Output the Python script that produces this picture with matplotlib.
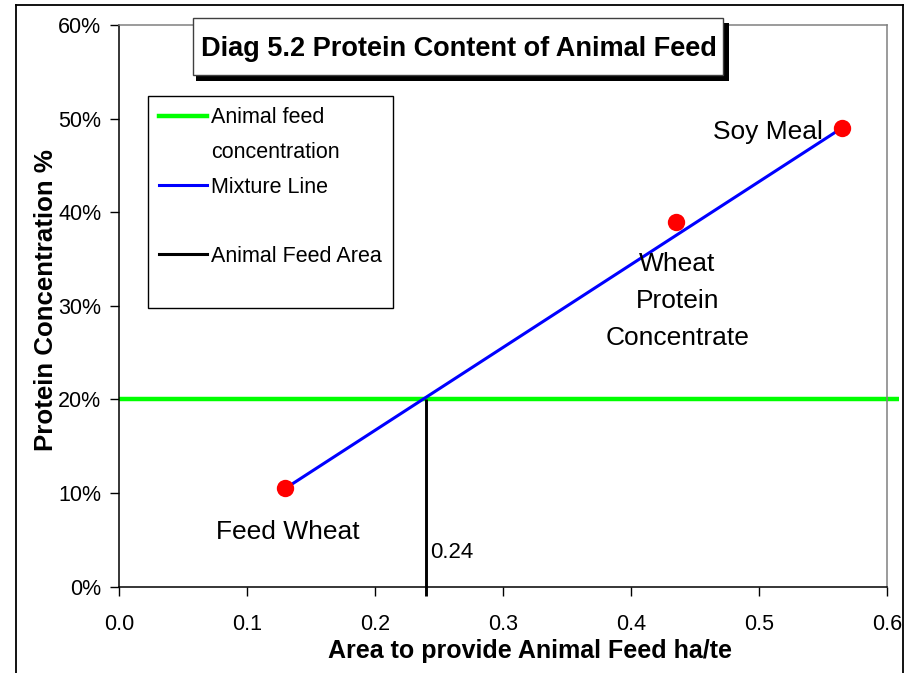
import matplotlib
matplotlib.use("Agg")
import matplotlib.pyplot as plt
from matplotlib.lines import Line2D
from matplotlib.patches import Rectangle
from matplotlib.ticker import PercentFormatter, FormatStrFormatter

plt.rcParams['font.family'] = ['Liberation Sans', 'DejaVu Sans']

# ---- data ----
feed_names = ["Feed Wheat", "Wheat\nProtein\nConcentrate", "Soy Meal"]
feed_area = [0.13, 0.435, 0.565]          # ha/te
feed_protein = [0.105, 0.39, 0.49]         # protein fraction
mixture_area = [0.13, 0.565]
mixture_protein = [0.105, 0.49]
target_conc = 0.20
target_line_x = [0.0, 0.61]
feed_area_result = 0.24
area_line_y = [-0.01, 0.20]
x_ticks = [0.0, 0.1, 0.2, 0.3, 0.4, 0.5, 0.6]
y_ticks = [0.0, 0.1, 0.2, 0.3, 0.4, 0.5, 0.6]
legend_labels = ["Animal feed", "concentration", "Mixture Line", " ",
                 "Animal Feed Area", " "]
title_text = "Diag 5.2 Protein Content of Animal Feed"
x_label = "Area to provide Animal Feed ha/te"
y_label = "Protein Concentration %"

# label positions (data coords): x, y, ha, va
label_pos = [(0.132, 0.051, 'center', 'baseline'),
             (0.4365, 0.357, 'center', 'top'),
             (0.5505, 0.478, 'right', 'baseline')]

W, H = 915, 673
fig = plt.figure(figsize=(W / 100, H / 100), dpi=100)
ax = fig.add_axes([119 / W, 1 - 586.7 / H, (886.7 - 119) / W, (586.7 - 25) / H])

ax.set_xlim(0, 0.6)
ax.set_ylim(0, 0.6)

green, = ax.plot(target_line_x, [target_conc, target_conc], color='#00ff00', lw=3.2,
                 clip_on=False, zorder=2, solid_capstyle='butt')
blue, = ax.plot(mixture_area, mixture_protein, color='#0000ff', lw=2.2, zorder=3)
black, = ax.plot([feed_area_result, feed_area_result], area_line_y, color='black',
                 lw=2.1, clip_on=False, zorder=3, solid_capstyle='butt')
ax.plot(feed_area, feed_protein, linestyle='none', marker='o', markersize=12.5,
        color='#ff0000', markeredgewidth=0, zorder=4)

# point labels
for name, (lx, ly, ha, va) in zip(feed_names, label_pos):
    ax.text(lx, ly, name, ha=ha, va=va, fontsize=19, linespacing=1.68,
            multialignment='center', zorder=5)

ax.text(feed_area_result + 0.0033, 0.0303, f"{feed_area_result:.2f}", ha='left',
        va='baseline', fontsize=16)

# axes styling
ax.set_xticks(x_ticks)
ax.set_yticks(y_ticks)
ax.xaxis.set_major_formatter(FormatStrFormatter('%.1f'))
ax.yaxis.set_major_formatter(PercentFormatter(xmax=1, decimals=0))
ax.tick_params(axis='both', direction='out', length=6.5, width=1.0, labelsize=15.5,
               colors='black')
ax.tick_params(axis='x', pad=13.5)
ax.tick_params(axis='y', pad=6.2)
for side in ['left', 'bottom']:
    ax.spines[side].set_color('black')
    ax.spines[side].set_linewidth(1.1)
for side in ['top', 'right']:
    ax.spines[side].set_color('#808080')
    ax.spines[side].set_linewidth(1.1)

ax.set_xlabel(x_label, fontsize=18, fontweight='bold')
ax.xaxis.set_label_coords(0.535, -0.093)
ax.set_ylabel(y_label, fontsize=18.6, fontweight='bold')
ax.yaxis.set_label_coords(-0.079, 0.51)

# legend
blank = Line2D([], [], color='none')
leg_handles = [Line2D([], [], color='#00ff00', lw=3.2), blank,
               Line2D([], [], color='#0000ff', lw=2.2), blank,
               Line2D([], [], color='black', lw=2.2), blank]
leg = ax.legend(leg_handles, legend_labels, loc='upper left',
                bbox_to_anchor=((148 - 119) / 767.7, (586.7 - 96) / 561.7),
                borderaxespad=0, fontsize=15.5, frameon=True, fancybox=False,
                edgecolor='black', framealpha=1, handlelength=2.2,
                handletextpad=0.2, labelspacing=0.63, borderpad=0.53)
leg.get_frame().set_linewidth(1.0)
leg.set_zorder(6)
leg.get_texts()[-1].set_fontsize(3)

# title box with shadow (figure pixel coords)
def px_rect(x0, y0, x1, y1, **kw):
    return Rectangle((x0 / W, 1 - y1 / H), (x1 - x0) / W, (y1 - y0) / H,
                     transform=fig.transFigure, **kw)

fig.patches.append(px_rect(196, 23, 728.5, 81, facecolor='black', edgecolor='none', zorder=10))
fig.patches.append(px_rect(193, 18, 723, 75, facecolor='white', edgecolor='#404040',
                           lw=1.0, zorder=11))
fig.text(459 / W, 1 - 56 / H, title_text, ha='center', va='baseline', fontsize=19.5,
         fontweight='bold', zorder=12)

# outer chart frame
for xs, ys in [([16, 16], [5, 700]), ([16, 903], [5, 5]), ([903, 903], [5, 700])]:
    fig.add_artist(Line2D([x / W for x in xs], [1 - y / H for y in ys],
                          transform=fig.transFigure, color='black', lw=1.3))

fig.savefig('out.png', dpi=100)
